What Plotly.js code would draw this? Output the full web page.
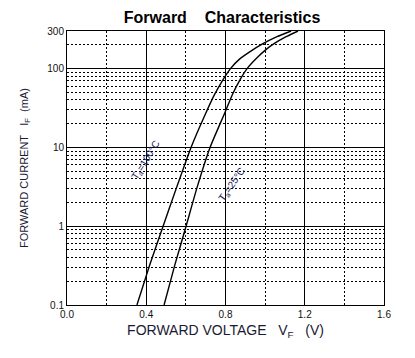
<!DOCTYPE html>
<html>
<head>
<meta charset="utf-8">
<script src="https://cdn.plot.ly/plotly-3.0.1.min.js"></script>
<style>html,body{margin:0;padding:0;background:#fff;}#chart{width:415px;height:358px;}</style>
</head>
<body>
<div id="chart"></div>
<script>
// Ta = 100 °C curve
const v100 = [0.353, 0.417, 0.485, 0.555, 0.626, 0.697, 0.745, 0.787, 0.825, 0.868, 0.924, 0.989, 1.060, 1.131];
const i100 = [0.1, 0.32, 1, 3.2, 10, 26, 47, 72, 100, 130, 164, 207, 254, 300];
// Ta = 25 °C curve
const v25 = [0.490, 0.544, 0.601, 0.658, 0.722, 0.798, 0.835, 0.873, 0.909, 0.959, 1.004, 1.045, 1.106, 1.166];
const i25 = [0.1, 0.32, 1, 3.2, 10, 28, 47, 72, 100, 137, 174, 207, 254, 300];

const yMajor = [0.1, 1, 10, 100, 300];
const yMajorText = ['0.1', '1', '10', '100', '300'];
const yMinor = [0.2,0.3,0.4,0.5,0.6,0.7,0.8,0.9, 2,3,4,5,6,7,8,9, 20,30,40,50,60,70,80,90, 200];

const labels = [
  {text: 'T<sub>a</sub>=100°C', v: 0.399, i: 6.9, angle: -58},
  {text: 'T<sub>a</sub>=25°C', v: 0.831, i: 3.35, angle: -55}
];

const FONT = 'Liberation Sans, Arial, sans-serif';
const line = {color: '#000', width: 1.4, shape: 'spline', smoothing: 0.5};

const traces = [
  {x: v100, y: i100, mode: 'lines', line: line, hoverinfo: 'skip'},
  {x: v25, y: i25, mode: 'lines', line: line, hoverinfo: 'skip'}
];

const NB = '\u00a0';
const layout = {
  width: 415, height: 358,
  margin: {l: 67, r: 31, t: 31, b: 53},
  paper_bgcolor: '#fff', plot_bgcolor: '#fff',
  showlegend: false,
  font: {family: FONT, size: 10, color: '#111'},
  title: {text: 'Forward' + NB.repeat(4) + 'Characteristics', font: {family: FONT, size: 16, weight: 'bold', color: '#000'}, x: 0.535, xanchor: 'center', y: 0.951, yanchor: 'middle'},
  xaxis: {
    range: [0, 1.6], dtick: 0.4, tick0: 0, tickformat: '.1f',
    showline: true, mirror: true, linecolor: '#000', linewidth: 1,
    showgrid: true, gridcolor: '#000', gridwidth: 1, zeroline: false,
    ticks: '', tickfont: {size: 10, color: '#111'},
    minor: {dtick: 0.2, tick0: 0, showgrid: true, gridcolor: '#000', gridwidth: 1, griddash: '2px,2px', ticks: ''},
    title: {text: 'FORWARD VOLTAGE' + NB.repeat(3) + 'V<sub>F</sub>' + NB.repeat(3) + '(V)', font: {size: 14, color: '#1a1a33'}, standoff: 6}
  },
  yaxis: {
    type: 'log', range: [-1, Math.log10(300)],
    tickmode: 'array', tickvals: yMajor, ticktext: yMajorText,
    showline: true, mirror: true, linecolor: '#000', linewidth: 1,
    showgrid: true, gridcolor: '#000', gridwidth: 1, zeroline: false,
    ticks: '', tickfont: {size: 10, color: '#111'},
    minor: {tickmode: 'array', tickvals: yMinor, showgrid: true, gridcolor: '#000', gridwidth: 1, griddash: '2px,2px', ticks: ''},
    title: {text: 'FORWARD CURRENT' + NB.repeat(3) + 'I<sub>F</sub>' + NB.repeat(2) + '(mA)', font: {size: 11, color: '#1a1a33'}, standoff: 16}
  },
  annotations: labels.map(l => ({
    x: l.v, y: Math.log10(l.i), xref: 'x', yref: 'y', text: l.text, showarrow: false,
    textangle: l.angle, font: {family: FONT, size: 10, color: '#18205a'}
  }))
};

Plotly.newPlot('chart', traces, layout, {staticPlot: true, displayModeBar: false});
</script>
</body>
</html>
